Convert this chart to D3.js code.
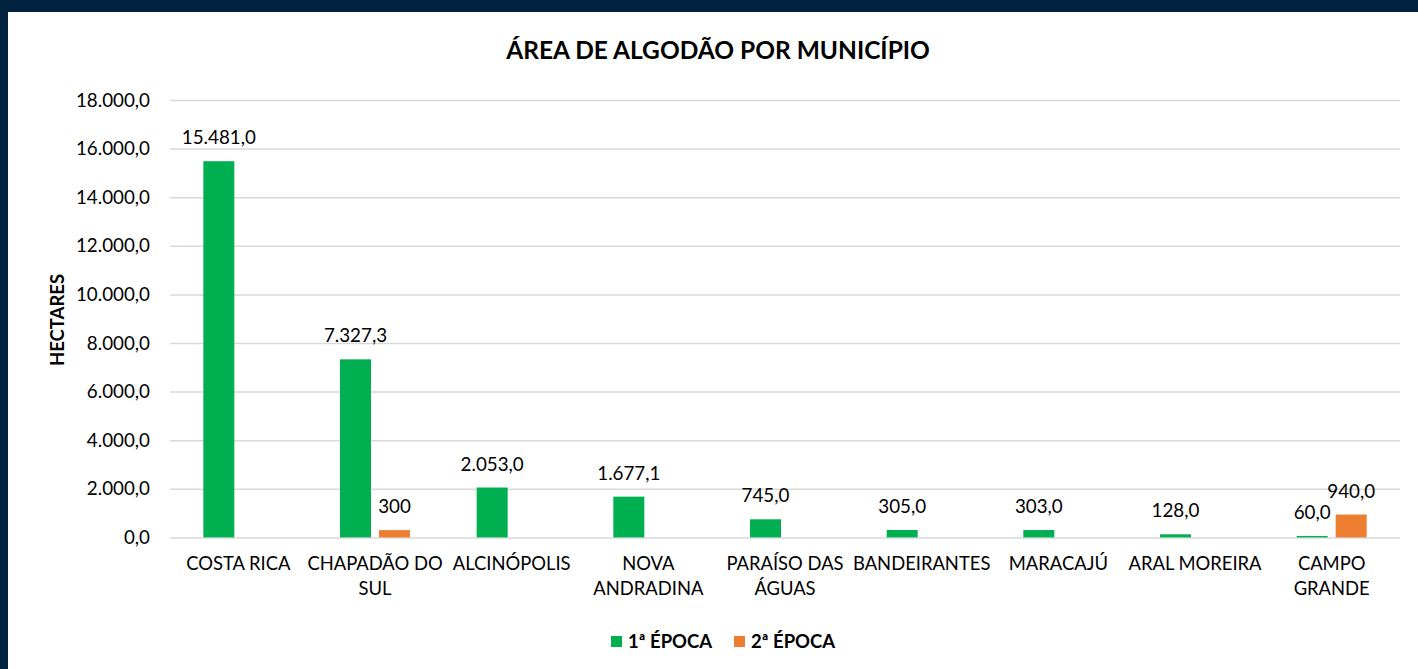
<!DOCTYPE html>
<html><head><meta charset="utf-8">
<script src="https://cdn.jsdelivr.net/npm/d3@7"></script>
<style>
html,body{margin:0;padding:0;background:#022340;}
svg{display:block;}
text{font-family:Lato, "Open Sans", sans-serif;fill:#000;}
</style></head>
<body>
<svg id="c" width="1418" height="669"></svg>
<script>
const categories = ["COSTA RICA","CHAPADÃO DO SUL","ALCINÓPOLIS","NOVA ANDRADINA","PARAÍSO DAS ÁGUAS","BANDEIRANTES","MARACAJÚ","ARAL MOREIRA","CAMPO GRANDE"];
const categoryLines = [["COSTA RICA"],["CHAPADÃO DO","SUL"],["ALCINÓPOLIS"],["NOVA","ANDRADINA"],["PARAÍSO DAS","ÁGUAS"],["BANDEIRANTES"],["MARACAJÚ"],["ARAL MOREIRA"],["CAMPO","GRANDE"]];
const epoca1 = [15481.0, 7327.3, 2053.0, 1677.1, 745.0, 305.0, 303.0, 128.0, 60.0];
const epoca2 = [null, 300, null, null, null, null, null, null, 940.0];
const epoca1Labels = ["15.481,0","7.327,3","2.053,0","1.677,1","745,0","305,0","303,0","128,0","60,0"];
const epoca2Labels = [null,"300",null,null,null,null,null,null,"940,0"];
const yTicks = [0,2000,4000,6000,8000,10000,12000,14000,16000,18000];
const seriesNames = ["1ª ÉPOCA","2ª ÉPOCA"];
const colors = ["#00b050","#ed7d31"];

const svg = d3.select("#c");
svg.append("rect").attr("x",8).attr("y",12).attr("width",1410).attr("height",657).attr("fill","#fff");

const m = {left:170, right:1400, top:100, bottom:537.4};
const x = d3.scaleBand().domain(categories).range([m.left,m.right]);
const y = d3.scaleLinear().domain([0,18000]).range([m.bottom,m.top]);
const fmt = d3.formatLocale({decimal:",",thousands:".",grouping:[3],currency:["R$",""]}).format(",.1f");

// gridlines + y axis
const ya = svg.append("g").attr("transform",`translate(${m.left},0)`)
  .call(d3.axisLeft(y).tickValues(yTicks).tickFormat(fmt).tickSize(-(m.right-m.left)).tickPadding(20));
ya.select(".domain").remove();
ya.selectAll(".tick line").attr("stroke","#d9d9d9").attr("stroke-width",1.5);
ya.selectAll(".tick text").style("font-size","18.8px").attr("fill","#000").attr("font-family","Lato, 'Open Sans', sans-serif");

// x axis
const xa = svg.append("g").attr("transform",`translate(0,${m.bottom})`)
  .call(d3.axisBottom(x).tickSize(0).tickFormat(""));
xa.select(".domain").remove();
xa.selectAll(".tick").each(function(d,i){
  const t = d3.select(this).append("text").attr("text-anchor","middle").style("font-size","18.4px").attr("fill","#000");
  categoryLines[i].forEach((ln,j)=>{
    t.append("tspan").attr("x",0).attr("y",33 + j*25).text(ln);
  });
});

const bw = 31, off = 19.5;
const series = [epoca1, epoca2];
const labels = [epoca1Labels, epoca2Labels];
series.forEach((s,si)=>{
  const g = svg.append("g");
  const dx = si===0 ? -off : off;
  categories.forEach((c,i)=>{
    if (s[i]==null) return;
    const cx = x(c) + x.bandwidth()/2 + dx;
    g.append("rect").attr("x",cx-bw/2).attr("y",y(s[i])).attr("width",bw)
      .attr("height",y(0)-y(s[i])).attr("fill",colors[si]);
    g.append("text").attr("x",cx).attr("y",y(s[i])-17).attr("text-anchor","middle")
      .style("font-size","18.8px").text(labels[si][i]);
  });
});

// title
svg.append("text").attr("x",718).attr("y",59).attr("text-anchor","middle")
  .style("font-size","24.5px").style("font-weight","bold").text("ÁREA DE ALGODÃO POR MUNICÍPIO");

// y axis title
svg.append("text").attr("transform","translate(64,320) rotate(-90)").attr("text-anchor","middle")
  .style("font-size","18.5px").style("font-weight","bold").text("HECTARES");

// legend
const legX = [611, 734];
seriesNames.forEach((n,i)=>{
  svg.append("rect").attr("x",legX[i]).attr("y",636).attr("width",11).attr("height",11).attr("fill",colors[i]);
  svg.append("text").attr("x",legX[i]+17).attr("y",648).style("font-size","18.5px").style("font-weight","bold").text(n);
});
</script>
</body></html>
